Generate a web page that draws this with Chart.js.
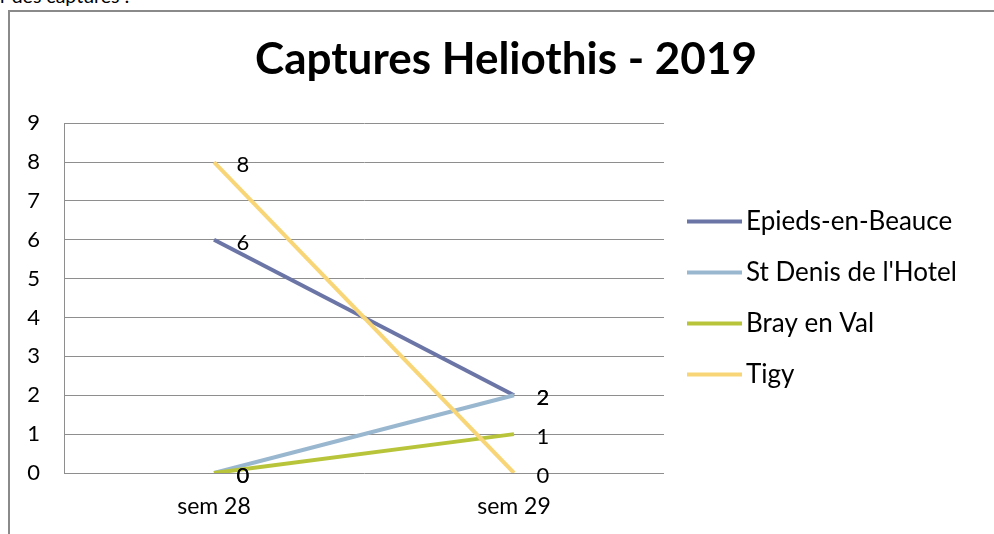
<!DOCTYPE html>
<html>
<head>
<meta charset="utf-8">
<script src="https://cdn.jsdelivr.net/npm/chart.js@4/dist/chart.umd.min.js"></script>
<style>
  html, body { margin: 0; padding: 0; background: #fff; overflow: hidden; width: 994px; height: 534px; }
  #doc { position: absolute; left: 0; top: -14px; font: 19.5px Lato, sans-serif; line-height: 20px; color: #000; white-space: nowrap; }
  #frame { position: absolute; left: 8px; top: 10px; width: 1100px; height: 700px; border-left: 2px solid #8a8a8a; border-top: 2px solid #8a8a8a; }
  #c { position: absolute; left: 10px; top: 12px; }
</style>
</head>
<body>
<div id="doc">r des captures :</div>
<div id="frame"></div>
<canvas id="c" width="992" height="522"></canvas>
<script>
const categories = ['sem 28', 'sem 29'];
const seriesNames = ['Epieds-en-Beauce', "St Denis de l'Hotel", 'Bray en Val', 'Tigy'];
const epieds = [6, 2];
const stDenis = [0, 2];
const bray = [0, 1];
const tigy = [8, 0];
const seriesColors = ['#6b75a6', '#9ab7d0', '#b8c53a', '#f8d677'];
const yTicks = [0, 1, 2, 3, 4, 5, 6, 7, 8, 9];
const titleText = 'Captures Heliothis - 2019';

const FONT = 'Lato, "Open Sans", sans-serif';
const seriesValues = [epieds, stDenis, bray, tigy];

const datasets = seriesValues.map((vals, i) => ({
  label: seriesNames[i],
  data: vals,
  borderColor: seriesColors[i],
  backgroundColor: seriesColors[i],
  borderWidth: 4,
  borderCapStyle: 'butt',
  pointRadius: 0,
  pointHoverRadius: 0,
  tension: 0,
  order: seriesValues.length - 1 - i
}));

// custom legend layout box on the right
const legendPlugin = {
  id: 'rightLegend',
  beforeInit(chart) {
    const box = {
      position: 'right',
      weight: 10,
      fullSize: false,
      options: {},
      isHorizontal() { return false; },
      update(maxWidth, maxHeight) { this.width = 338; this.height = maxHeight; return {}; },
      draw() {
        const ctx = chart.ctx;
        const ca = chart.chartArea;
        const mid = (ca.top + ca.bottom) / 2;
        const n = chart.data.datasets.length;
        ctx.save();
        chart.data.datasets.forEach((ds, i) => {
          const y = mid + (i - (n - 1) / 2) * 51;
          ctx.strokeStyle = ds.borderColor;
          ctx.lineWidth = 4;
          ctx.lineCap = 'butt';
          ctx.beginPath();
          ctx.moveTo(this.left + 23, y);
          ctx.lineTo(this.left + 78, y);
          ctx.stroke();
          ctx.fillStyle = '#000';
          ctx.font = '26px ' + FONT;
          ctx.textAlign = 'left';
          ctx.textBaseline = 'middle';
          ctx.fillText(ds.label, this.left + 82, y);
        });
        ctx.restore();
      }
    };
    Chart.layouts.addBox(chart, box);
  }
};

const dataLabelPlugin = {
  id: 'dataLabels',
  afterDatasetsDraw(chart) {
    const ctx = chart.ctx;
    ctx.save();
    ctx.font = '22px ' + FONT;
    ctx.fillStyle = '#000';
    ctx.textAlign = 'center';
    ctx.textBaseline = 'middle';
    chart.data.datasets.forEach((ds, i) => {
      const meta = chart.getDatasetMeta(i);
      meta.data.forEach((pt, j) => {
        ctx.fillText(String(ds.data[j]), pt.x + 29, pt.y + 3);
      });
    });
    ctx.restore();
  }
};

const chart = new Chart(document.getElementById('c'), {
  type: 'line',
  data: { labels: categories, datasets },
  options: {
    responsive: false,
    animation: false,
    events: [],
    layout: { padding: 0 },
    plugins: {
      legend: { display: false },
      tooltip: { enabled: false },
      title: {
        display: true,
        text: titleText,
        color: '#000',
        font: { family: FONT, size: 44, weight: 'bold', lineHeight: 1.2 },
        padding: { top: 21, bottom: 37.4 }
      }
    },
    scales: {
      x: {
        offset: true,
        grid: { display: false, drawTicks: false },
        border: { display: false },
        ticks: { color: '#000', font: { family: FONT, size: 23 }, padding: 20, maxRotation: 0 },
        afterFit(s) { s.height = 61; }
      },
      y: {
        min: 0, max: 9,
        afterBuildTicks(s) { s.ticks = yTicks.map(v => ({ value: v })); },
        grid: { color: '#8e8e8e', lineWidth: 1, drawTicks: false },
        border: { display: true, color: '#8e8e8e', width: 1 },
        ticks: { color: '#000', font: { family: FONT, size: 22 }, padding: 24 },
        afterFit(s) { s.width = 54; }
      }
    }
  },
  plugins: [legendPlugin, dataLabelPlugin]
});
</script>
</body>
</html>
